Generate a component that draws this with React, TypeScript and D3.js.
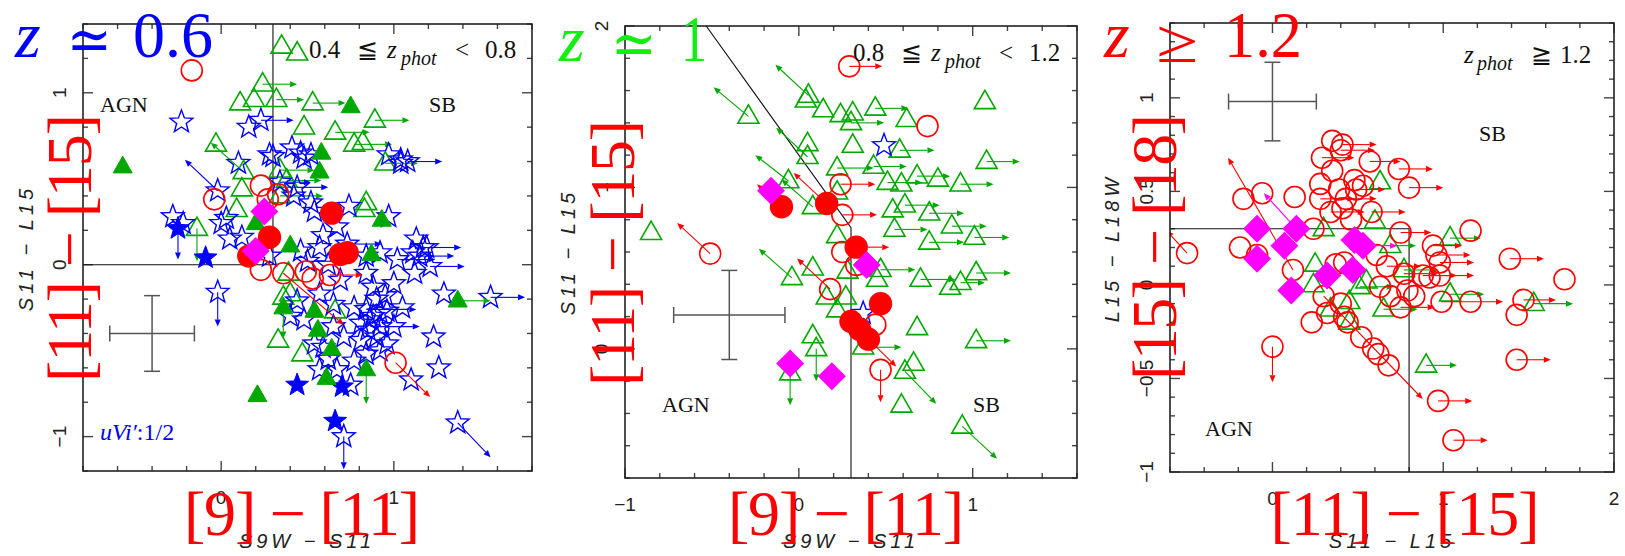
import React from 'react';
import * as d3 from 'd3';

type P = [number, number, number, number]; // x, y, arrow dx, arrow dy (data units)

// ---------------- Panel 1 : 0.4 <= z_phot < 0.8 ----------------
const p1TriOpen: P[] = [
  [0.35, 1.27, 0, 0], [0.44, 1.23, 0, 0], [0.24, 1.05, 0.2, 0], [0.11, 0.94, 0, 0], [0.19, 0.96, 0, 0],
  [0.32, 0.96, 0.16, 0], [0.53, 0.94, 0.19, 0], [0.48, 0.8, 0, 0], [0.66, 0.77, 0.2, 0], [0.89, 0.84, 0.2, 0],
  [0.77, 0.7, 0.22, 0], [0.82, 0.71, 0, 0], [-0.03, 0.7, 0, 0], [0.95, 0.59, 0.19, 0], [0.84, 0.36, 0, 0],
  [0.83, 0.32, 0, 0], [-0.14, 0.21, 0, -0.19], [0.13, 0.54, -0.19, 0.17], [0.12, 0.44, 0, 0], [0.09, 0.32, 0, 0],
  [0.34, 0.55, 0.2, 0], [0.38, 0.49, 0.2, 0], [0.34, 0.4, 0.25, 0], [0.36, -0.19, 0, 0], [0.4, -0.17, 0, 0],
  [0.66, -0.27, 0, 0], [0.33, -0.44, 0, 0], [0.47, -0.52, 0, 0], [0.39, -0.05, 0, 0],
];
const p1TriFilled: P[] = [
  [0.75, 0.92, 0, 0], [0.58, 0.65, 0, 0], [0.57, 0.54, 0, 0], [-0.57, 0.57, 0, 0], [0.93, 0.26, 0, 0],
  [0.87, 0.06, 0, 0], [0.4, 0.11, 0, 0], [0.2, 0.24, 0, 0], [1.37, -0.21, 0.19, 0], [0.36, -0.25, 0, -0.18],
  [0.54, -0.27, 0, 0], [0.56, -0.38, 0, 0], [0.64, -0.49, 0, 0], [0.61, -0.66, 0, 0], [0.84, -0.61, 0, -0.2],
  [0.21, -0.76, 0, 0],
];
const p1StarOpen: P[] = [
  [-0.23, 0.83, 0, 0], [0.16, 0.8, 0, 0], [0.23, 0.84, 0.19, 0], [0.1, 0.59, 0, 0], [0.3, 0.63, 0, 0],
  [0.41, 0.68, 0, 0], [0.48, 0.62, 0, 0], [0.52, 0.64, 0, 0], [0.28, 0.64, 0, 0], [0.46, 0.65, 0, 0],
  [0.97, 0.64, 0, 0], [1.04, 0.59, 0, 0], [1.04, 0.61, 0, 0], [1.08, 0.6, 0.2, 0], [-0.02, 0.43, -0.19, 0.18],
  [-0.28, 0.28, 0, 0], [0.03, 0.27, 0, 0], [0.42, 0.4, 0, 0], [0.52, 0.36, 0, 0], [0.54, 0.31, 0, 0],
  [0.74, 0.34, 0, 0], [0.97, 0.28, 0, 0], [1.13, 0.15, 0, 0], [1.17, 0.1, 0.22, 0], [1.11, 0.07, 0, 0],
  [1.19, 0.1, 0, 0], [1.15, 0.05, 0.2, 0], [-0.22, 0.24, 0, 0], [0.0, 0.24, 0, 0], [0.05, 0.15, 0, 0],
  [0.12, 0.16, 0, 0], [0.28, 0.05, 0, 0], [0.46, 0.08, 0, 0], [0.59, 0.17, 0, 0], [0.67, 0.22, 0, 0],
  [0.57, 0.1, 0, 0], [0.73, 0.12, 0.2, 0], [0.84, 0.05, 0, 0], [0.34, 0.48, 0.18, 0], [0.44, 0.45, 0.18, 0],
  [-0.02, -0.16, 0, -0.2], [1.29, -0.17, 0, 0], [1.56, -0.19, 0.2, 0], [1.23, -0.42, 0, 0], [1.26, -0.6, 0, 0],
  [1.1, -0.67, 0, 0], [1.37, -0.92, 0.19, -0.2], [0.71, -1.0, 0, -0.19], [0.48, -0.32, 0, 0], [0.54, -0.46, 0, 0],
  [0.71, -0.42, 0, 0], [0.67, -0.61, 0, 0], [0.77, -0.56, 0, 0], [0.84, -0.52, 0, 0], [0.92, -0.5, 0, 0],
  [0.81, -0.34, 0, 0], [0.86, -0.32, 0, 0], [0.92, -0.28, 0, 0], [0.96, -0.27, 0, 0], [1.0, -0.36, 0, 0],
  [0.88, -0.13, 0, 0], [1.0, -0.11, 0, 0], [1.12, -0.05, 0, 0], [1.21, -0.01, 0.2, 0], [0.84, -0.05, 0, 0],
  [0.69, -0.09, 0, 0], [0.57, -0.17, 0, 0], [0.44, -0.21, 0, 0], [0.65, -0.23, 0, 0], [0.77, -0.25, 0, 0],
  [0.88, -0.3, 0, 0], [0.84, -0.26, 0.29, 0], [0.92, -0.36, 0.23, 0], [0.57, -0.61, 0, 0], [0.59, -0.48, 0, 0],
  [0.81, -0.44, 0, 0], [0.96, -0.46, 0, 0], [0.65, -0.36, 0, 0], [0.4, -0.3, 0, 0], [0.5, 0.02, 0.2, 0],
  [0.62, 0.0, 0, 0], [0.92, 0.07, 0, 0], [1.02, 0.03, 0.22, 0], [0.9, -0.2, 0, 0], [0.95, -0.18, 0, 0],
  [0.85, -0.38, 0, 0], [0.9, -0.42, 0, 0], [1.05, -0.25, 0, 0], [0.75, -0.7, 0, 0], [0.62, -0.55, 0, 0],
];
const p1StarFilled: P[] = [
  [-0.25, 0.21, 0, -0.18], [-0.09, 0.04, 0, 0], [0.44, -0.7, 0, 0], [0.7, -0.71, 0, 0], [0.66, -0.91, 0, 0],
];
const p1CircOpen: P[] = [
  [-0.17, 1.13, 0, 0], [-0.04, 0.38, 0, 0], [0.23, 0.46, 0, 0], [0.27, 0.38, 0, 0], [0.33, 0.41, 0, 0],
  [0.23, -0.03, 0, 0], [0.36, -0.05, 0.35, -0.3], [0.49, -0.04, 0, 0], [0.53, -0.08, 0, 0], [0.63, -0.06, 0.19, 0],
  [1.01, -0.57, 0.2, -0.2],
];
const p1CircFilled: P[] = [
  [0.64, 0.3, 0, 0], [0.28, 0.16, 0, 0], [0.16, 0.05, 0, 0], [0.69, 0.06, 0, 0], [0.73, 0.07, 0, 0],
];
const p1Diamond: P[] = [[0.25, 0.31, 0, 0], [0.2, 0.08, 0, 0]];

// ---------------- Panel 2 : 0.8 <= z_phot < 1.2 ----------------
const p2TriOpen: P[] = [
  [-0.29, 1.44, -0.2, 0.18], [0.04, 1.54, 0, 0], [0.055, 1.57, -0.19, 0.19], [0.14, 1.48, 0, 0], [0.24, 1.45, 0, 0],
  [0.31, 1.46, 0, 0], [0.44, 1.49, 0.19, 0], [0.3, 1.4, 0.19, 0], [0.62, 1.42, 0, 0], [0.31, 1.26, 0, 0],
  [0.05, 1.27, 0, 0], [0.05, 1.19, -0.18, 0.18], [1.07, 1.53, 0, 0], [0.22, 1.12, 0.21, 0], [0.43, 1.13, 0.19, 0],
  [0.58, 1.23, 0.2, 0], [1.08, 1.16, 0.19, 0], [0.51, 1.03, 0.2, 0], [0.59, 1.02, 0, 0], [0.68, 1.07, 0.19, 0],
  [0.8, 1.05, 0, 0], [0.93, 1.02, 0.19, 0], [-0.06, 1.04, -0.19, 0.16], [0.08, 0.88, -0.18, 0.17], [0.22, 0.97, 0, 0],
  [0.54, 0.86, 0, 0], [0.61, 0.89, 0.2, 0], [0.75, 0.84, 0.2, 0], [0.88, 0.76, 0.2, 0], [0.55, 0.74, 0.19, 0],
  [0.75, 0.66, 0.2, 0], [1.01, 0.69, 0.2, 0], [0.22, 0.7, 0, 0], [0.08, 0.5, 0, 0], [-0.04, 0.44, -0.19, 0.18],
  [0.16, 0.32, 0, 0], [0.27, 0.32, 0, 0], [0.22, 0.24, 0, 0], [0.28, 0.48, 0, 0], [0.45, 0.43, 0, 0],
  [0.47, 0.49, 0.2, 0], [0.7, 0.43, 0.2, 0], [0.93, 0.41, 0.14, 0], [0.87, 0.38, 0, 0], [1.02, 0.47, 0.2, 0],
  [0.68, 0.13, 0, 0], [1.02, 0.05, 0.2, 0], [0.08, 0.08, 0, 0], [0.1, 0.0, 0, -0.2], [-0.05, -0.15, 0, -0.2],
  [0.37, 0.01, 0.22, 0], [0.66, -0.09, 0, 0], [0.61, -0.14, 0.18, -0.2], [0.59, -0.35, 0, 0], [0.94, -0.48, 0.2, -0.2],
  [-0.85, 0.72, 0, 0],
];
const p2StarOpen: P[] = [[0.49, 1.26, 0, 0], [0.37, 0.22, 0, 0]];
const p2CircOpen: P[] = [
  [0.29, 1.75, 0.19, 0], [0.74, 1.38, 0, 0], [0.24, 1.02, 0.2, 0], [0.25, 0.83, 0.2, 0], [-0.51, 0.59, -0.19, 0.19],
  [0.25, 0.6, 0, 0], [0.18, 0.37, -0.19, 0.19], [0.33, 0.52, 0, 0], [0.44, 0.15, 0, 0], [0.47, -0.13, 0, -0.2],
];
const p2CircFilled: P[] = [
  [-0.1, 0.88, -0.14, 0.14], [0.16, 0.9, -0.19, 0.19], [0.33, 0.63, 0.19, 0], [0.47, 0.28, 0, 0],
  [0.3, 0.17, 0, 0], [0.35, 0.12, 0, 0], [0.4, 0.06, 0.16, -0.17],
];
const p2Diamond: P[] = [[-0.16, 0.98, 0, 0], [0.39, 0.52, 0, 0], [-0.05, -0.09, 0, 0], [0.19, -0.17, 0, 0]];

// ---------------- Panel 3 : z_phot >= 1.2 ----------------
const p3CircOpen: P[] = [
  [0.35, 0.77, 0, 0], [0.41, 0.75, 0.2, 0], [0.4, 0.72, 0.2, 0], [0.29, 0.68, 0.19, 0], [0.35, 0.61, 0, 0],
  [0.28, 0.54, 0, 0], [0.28, 0.46, 0.2, 0], [0.39, 0.51, 0, 0], [0.48, 0.56, 0, 0], [0.49, 0.51, 0.17, 0],
  [0.43, 0.46, 0.18, 0], [0.34, 0.39, 0.2, 0], [0.41, 0.41, 0, 0], [0.46, 0.35, 0, 0], [0.58, 0.39, 0.2, 0],
  [0.57, 0.66, 0.18, 0], [0.74, 0.62, 0.2, 0], [0.8, 0.52, 0.2, 0], [1.16, 0.29, 0, 0], [0.75, 0.28, 0.18, 0],
  [0.94, 0.21, 0.17, 0], [0.96, 0.16, 0.2, 0], [0.98, 0.12, 0.2, 0], [1.39, 0.14, 0.2, 0], [1.71, 0.03, 0, 0],
  [-0.17, 0.46, 0, 0], [-0.06, 0.49, 0, 0], [0.13, 0.47, 0, 0], [-0.5, 0.17, -0.12, 0.12], [-0.19, 0.2, 0, 0],
  [-0.09, 0.16, 0, 0], [0.12, 0.08, -0.38, 0.6], [0.24, 0.3, 0, 0], [0.37, 0.11, 0, 0], [0.42, 0.12, 0, 0],
  [0.61, 0.16, 0, 0], [0.67, 0.1, 0.2, 0], [0.77, 0.06, 0.2, 0], [0.88, 0.05, 0.2, 0], [0.99, -0.09, 0.36, 0],
  [1.16, -0.09, 0, 0], [1.47, -0.08, 0.19, 0], [1.43, -0.16, 0, 0], [1.43, -0.4, 0.2, 0], [0.97, -0.62, 0.2, 0],
  [1.06, -0.83, 0.2, 0], [0.0, -0.33, 0, -0.19], [0.23, -0.2, 0, 0], [0.32, -0.15, 0, 0], [0.4, -0.1, 0, 0],
  [0.3, -0.06, 0.58, -0.55], [0.42, -0.17, 0, 0], [0.44, -0.2, 0, 0], [0.52, -0.28, 0, 0], [0.59, -0.34, 0, 0],
  [0.62, -0.37, 0, 0], [0.68, -0.43, 0, 0], [0.63, -0.01, 0, 0], [0.69, -0.06, 0, 0], [0.75, -0.12, 0.2, 0],
  [0.83, -0.06, 0, 0], [0.79, -0.03, 0, 0], [0.92, 0.04, 0, 0], [0.98, 0.05, 0.2, 0], [0.53, 0.53, 0, 0],
];
const p3TriOpen: P[] = [
  [0.63, 0.55, 0, 0], [0.6, 0.34, 0, 0], [0.3, 0.3, 0, 0], [0.69, 0.21, 0.15, 0], [1.04, 0.25, 0.18, 0],
  [0.25, 0.11, 0, 0], [0.77, 0.08, 0.2, 0], [0.24, 0.0, 0, 0], [0.51, -0.01, 0.2, 0], [0.45, -0.09, 0, 0],
  [0.65, -0.13, 0.2, 0], [1.04, -0.05, 0.2, 0], [1.53, -0.1, 0.23, 0], [0.9, -0.43, 0.18, 0], [0.34, -0.13, 0, 0],
  [0.45, -0.2, 0, 0], [0.55, 0.02, 0, 0],
];
const p3Diamond: P[] = [
  [-0.09, 0.3, 0, 0], [0.14, 0.3, -0.19, 0.19], [0.07, 0.21, 0, 0], [-0.09, 0.14, 0, 0], [0.48, 0.24, 0, 0],
  [0.53, 0.21, 0.2, 0], [0.32, 0.05, 0, 0], [0.47, 0.08, 0, 0], [0.11, -0.03, 0, 0],
];

// tick labels, reference lines, error crosses
const p1XTicks = [0, 1];
const p1YTicks = [-1, 0, 1];
const p2XTicks = [-1, 0, 1];
const p2YTicks = [0, 1, 2];
const p3XTicks = [0, 1, 2];
const p3YTicks = [-1, -0.5, 0, 0.5, 1];
const p1Lines = [[[0.3, 1.4], [0.3, 0], [-0.8, 0]]];
const p2Lines = [[[-0.533, 2], [0.3, 0.75], [0.3, -0.8]]];
const p3Lines = [[[-0.6, 0.3], [0.8, 0.3], [0.8, -1]]];
const p1Err = [-0.4, -0.4, 0.245, 0.22];
const p2Err = [-0.4, 0.21, 0.32, 0.276];
const p3Err = [0.0, 0.98, 0.257, 0.21];

const GREEN = '#00a800';
const BLUE = '#0000ff';
const RED = '#ff0000';
const MAG = '#ff00ff';
const SERIF = '"Liberation Serif", "DejaVu Serif", serif';
const SANS = '"Liberation Sans", "DejaVu Sans", sans-serif';

type Shape = 'triO' | 'triF' | 'starO' | 'starF' | 'circO' | 'circF' | 'diam';
interface Series { data: P[]; shape: Shape; color: string }

const lineGen = d3.line().curve(d3.curveLinearClosed);
function starPath(R: number) {
  const pts: [number, number][] = [];
  for (let i = 0; i < 10; i++) {
    const r = i % 2 === 0 ? R : R * 0.42;
    const a = -Math.PI / 2 + (i * Math.PI) / 5;
    pts.push([r * Math.cos(a), r * Math.sin(a)]);
  }
  return lineGen(pts) as string;
}
const STAR = starPath(12);
const TRI_O = lineGen([[0, -11.5], [10.5, 6.8], [-10.5, 6.8]]) as string;
const TRI_F = lineGen([[0, -10.5], [9.5, 6.2], [-9.5, 6.2]]) as string;
const DIAM = lineGen([[0, -14], [14, 0], [0, 14], [-14, 0]]) as string;

function Marker({ shape, color, cx, cy }: { shape: Shape; color: string; cx: number; cy: number }) {
  const t = `translate(${cx},${cy})`;
  switch (shape) {
    case 'triO': return <path d={TRI_O} transform={t} fill="none" stroke={color} strokeWidth={1.6} />;
    case 'triF': return <path d={TRI_F} transform={t} fill={color} stroke={color} strokeWidth={1} />;
    case 'starO': return <path d={STAR} transform={t} fill="none" stroke={color} strokeWidth={1.4} />;
    case 'starF': return <path d={STAR} transform={t} fill={color} stroke={color} strokeWidth={1} />;
    case 'circO': return <circle cx={cx} cy={cy} r={10.5} fill="none" stroke={color} strokeWidth={1.6} />;
    case 'circF': return <circle cx={cx} cy={cy} r={11.7} fill={color} />;
    case 'diam': return <path d={DIAM} transform={t} fill={color} />;
  }
  return null;
}

function Arrow({ x1, y1, x2, y2, color }: { x1: number; y1: number; x2: number; y2: number; color: string }) {
  const ang = Math.atan2(y2 - y1, x2 - x1);
  const L = 7, w = 3;
  const bx = x2 - L * Math.cos(ang), by = y2 - L * Math.sin(ang);
  const px = -Math.sin(ang) * w, py = Math.cos(ang) * w;
  const head = `M${x2},${y2}L${bx + px},${by + py}L${bx - px},${by - py}Z`;
  return (
    <g>
      <line x1={x1} y1={y1} x2={bx} y2={by} stroke={color} strokeWidth={1.1} />
      <path d={head} fill={color} />
    </g>
  );
}

interface PanelCfg {
  id: string; l: number; r: number; t: number; b: number;
  xd: [number, number]; yd: [number, number];
  xMinor: number; xMajor: number; yMinor: number; yMajor: number;
  xTicks: number[]; yTicks: number[];
  series: Series[]; lines: number[][][]; err: number[];
}

function tickVals(d0: number, d1: number, step: number) {
  const out: number[] = [];
  const i0 = Math.ceil(d0 / step - 1e-6), i1 = Math.floor(d1 / step + 1e-6);
  for (let i = i0; i <= i1; i++) out.push(+(i * step).toFixed(6));
  return out;
}
const isMajor = (v: number, m: number) => Math.abs(v / m - Math.round(v / m)) < 1e-6;
const fmt = (v: number) => (v < 0 ? '\u2212' + Math.abs(v) : String(v));

function Panel({ cfg }: { cfg: PanelCfg }) {
  const x = d3.scaleLinear().domain(cfg.xd).range([cfg.l, cfg.r]);
  const y = d3.scaleLinear().domain(cfg.yd).range([cfg.b, cfg.t]);
  const line = d3.line<number[]>().x((d) => x(d[0])).y((d) => y(d[1]));
  const clipId = 'clip-' + cfg.id;
  const xt = tickVals(cfg.xd[0], cfg.xd[1], cfg.xMinor);
  const yt = tickVals(cfg.yd[0], cfg.yd[1], cfg.yMinor);
  const [ex, ey, ehx, ehy] = cfg.err;
  const cap = 8;
  const tc = '#444';
  return (
    <g>
      <defs>
        <clipPath id={clipId}>
          <rect x={cfg.l} y={cfg.t} width={cfg.r - cfg.l} height={cfg.b - cfg.t} />
        </clipPath>
      </defs>
      {xt.map((v) => {
        const len = isMajor(v, cfg.xMajor) ? 10 : 5;
        return (
          <g key={'xt' + v} stroke={tc} strokeWidth={1.4}>
            <line x1={x(v)} x2={x(v)} y1={cfg.b} y2={cfg.b - len} />
            <line x1={x(v)} x2={x(v)} y1={cfg.t} y2={cfg.t + len} />
          </g>
        );
      })}
      {yt.map((v) => {
        const len = isMajor(v, cfg.yMajor) ? 10 : 5;
        return (
          <g key={'yt' + v} stroke={tc} strokeWidth={1.4}>
            <line y1={y(v)} y2={y(v)} x1={cfg.l} x2={cfg.l + len} />
            <line y1={y(v)} y2={y(v)} x1={cfg.r} x2={cfg.r - len} />
          </g>
        );
      })}
      {cfg.xTicks.map((v) => (
        <text key={'xl' + v} x={x(v)} y={cfg.b + 33} textAnchor="middle" fontFamily={SANS} fontSize={19} fill="#222">
          {fmt(v)}
        </text>
      ))}
      {cfg.yTicks.map((v) => (
        <text key={'yl' + v} transform={`translate(${cfg.l - 17},${y(v)}) rotate(-90)`} textAnchor="middle"
          fontFamily={SANS} fontSize={19} fill="#222">
          {fmt(v)}
        </text>
      ))}
      <g stroke="#555" strokeWidth={1.5}>
        <line x1={x(ex - ehx)} x2={x(ex + ehx)} y1={y(ey)} y2={y(ey)} />
        <line x1={x(ex)} x2={x(ex)} y1={y(ey - ehy)} y2={y(ey + ehy)} />
        <line x1={x(ex - ehx)} x2={x(ex - ehx)} y1={y(ey) - cap} y2={y(ey) + cap} />
        <line x1={x(ex + ehx)} x2={x(ex + ehx)} y1={y(ey) - cap} y2={y(ey) + cap} />
        <line x1={x(ex) - cap} x2={x(ex) + cap} y1={y(ey - ehy)} y2={y(ey - ehy)} />
        <line x1={x(ex) - cap} x2={x(ex) + cap} y1={y(ey + ehy)} y2={y(ey + ehy)} />
      </g>
      <g clipPath={`url(#${clipId})`}>
        {cfg.lines.map((ln, i) => (
          <path key={'ln' + i} d={line(ln) as string} fill="none" stroke="#111" strokeWidth={1.1} />
        ))}
        {cfg.series.map((s, si) => (
          <g key={'s' + si}>
            {s.data.map((d, i) => (
              <g key={i}>
                {(d[2] !== 0 || d[3] !== 0) && (
                  <Arrow x1={x(d[0])} y1={y(d[1])} x2={x(d[0] + d[2])} y2={y(d[1] + d[3])} color={s.color} />
                )}
                <Marker shape={s.shape} color={s.color} cx={x(d[0])} cy={y(d[1])} />
              </g>
            ))}
          </g>
        ))}
      </g>
      <rect x={cfg.l} y={cfg.t} width={cfg.r - cfg.l} height={cfg.b - cfg.t} fill="none" stroke="#222" strokeWidth={1.6} />
    </g>
  );
}

const panels: PanelCfg[] = [
  {
    id: 'p1', l: 83, r: 532, t: 24, b: 471, xd: [-0.8, 1.8], yd: [-1.2, 1.4],
    xMinor: 0.2, xMajor: 1, yMinor: 0.2, yMajor: 1, xTicks: p1XTicks, yTicks: p1YTicks,
    lines: p1Lines, err: p1Err,
    series: [
      { data: p1TriOpen, shape: 'triO', color: GREEN },
      { data: p1StarOpen, shape: 'starO', color: BLUE },
      { data: p1StarFilled, shape: 'starF', color: BLUE },
      { data: p1TriFilled, shape: 'triF', color: GREEN },
      { data: p1CircOpen, shape: 'circO', color: RED },
      { data: p1CircFilled, shape: 'circF', color: RED },
      { data: p1Diamond, shape: 'diam', color: MAG },
    ],
  },
  {
    id: 'p2', l: 625, r: 1077, t: 26, b: 478, xd: [-1, 1.6], yd: [-0.8, 2],
    xMinor: 0.2, xMajor: 1, yMinor: 0.2, yMajor: 1, xTicks: p2XTicks, yTicks: p2YTicks,
    lines: p2Lines, err: p2Err,
    series: [
      { data: p2TriOpen, shape: 'triO', color: GREEN },
      { data: p2StarOpen, shape: 'starO', color: BLUE },
      { data: p2CircOpen, shape: 'circO', color: RED },
      { data: p2CircFilled, shape: 'circF', color: RED },
      { data: p2Diamond, shape: 'diam', color: MAG },
    ],
  },
  {
    id: 'p3', l: 1170, r: 1614, t: 23, b: 472, xd: [-0.6, 2], yd: [-1, 1.4],
    xMinor: 0.2, xMajor: 1, yMinor: 0.1, yMajor: 0.5, xTicks: p3XTicks, yTicks: p3YTicks,
    lines: p3Lines, err: p3Err,
    series: [
      { data: p3TriOpen, shape: 'triO', color: GREEN },
      { data: p3CircOpen, shape: 'circO', color: RED },
      { data: p3Diamond, shape: 'diam', color: MAG },
    ],
  },
];

function ZPhot({ x0, y0, parts }: { x0: number; y0: number; parts: [string, number, number][] }) {
  return (
    <g fill="#111">
      {parts.map(([t, dx, k], i) => (
        <text key={i} x={x0 + dx} y={k === 2 ? y0 + 7 : y0} fontFamily={SERIF}
          fontSize={k === 2 ? 20 : 25} fontStyle={k === 0 ? 'normal' : 'italic'}>
          {t}
        </text>
      ))}
    </g>
  );
}

function BigZ({ x0, y0, color, rel, relW, relDy, num, numX, numW }: any) {
  return (
    <g fill={color} fontFamily={SERIF}>
      <text x={x0} y={y0} fontSize={66} fontStyle="italic">z</text>
      <text x={x0 + 52} y={y0 + relDy} fontSize={62} textLength={relW} lengthAdjust="spacingAndGlyphs">{rel}</text>
      <text x={numX} y={y0} fontSize={66} textLength={numW} lengthAdjust="spacingAndGlyphs">{num}</text>
    </g>
  );
}

export default function App() {
  return (
    <svg width={1625} height={556} style={{ position: 'absolute', left: 0, top: 0, background: '#fff' }}>
      <rect x={0} y={0} width={1625} height={556} fill="#fff" />
      {panels.map((p) => <Panel key={p.id} cfg={p} />)}

      <g fontFamily={SANS} fontStyle="italic" fontSize={20} fill="#222" letterSpacing={4}>
        <text x={307} y={548} textAnchor="middle">S9W − S11</text>
        <text x={851} y={548} textAnchor="middle">S9W − S11</text>
        <text x={1392} y={548} textAnchor="middle">S11 − L15</text>
        <text transform="translate(33,248) rotate(-90)" textAnchor="middle">S11 − L15</text>
        <text transform="translate(575,252) rotate(-90)" textAnchor="middle">S11 − L15</text>
        <text transform="translate(1119,248) rotate(-90)" textAnchor="middle">L15 − L18W</text>
      </g>

      <g fontFamily={SERIF} fontSize={22} fill="#111">
        <text x={100} y={112}>AGN</text>
        <text x={429} y={112}>SB</text>
        <text x={662} y={412}>AGN</text>
        <text x={973} y={412}>SB</text>
        <text x={1479} y={141}>SB</text>
        <text x={1205} y={436}>AGN</text>
      </g>

      <ZPhot x0={309} y0={58} parts={[['0.4', 0, 0], ['≦', 48, 0], ['z', 78, 1], ['phot', 92, 2], ['<', 146, 0], ['0.8', 176, 0]]} />
      <ZPhot x0={853} y0={61} parts={[['0.8', 0, 0], ['≦', 48, 0], ['z', 78, 1], ['phot', 92, 2], ['<', 146, 0], ['1.2', 176, 0]]} />
      <ZPhot x0={1464} y0={63} parts={[['z', 0, 1], ['phot', 13, 2], ['≧', 67, 0], ['1.2', 96, 0]]} />

      <text x={100} y={440} fontFamily={SERIF} fontSize={24} fill={BLUE}>
        <tspan fontStyle="italic">uVi′</tspan>
        <tspan>:1/2</tspan>
      </text>

      <BigZ x0={15} y0={57} relDy={4} color={BLUE} rel="≃" relW={45} num="0.6" numX={133} numW={80} />
      <BigZ x0={559} y0={61} relDy={4} color="#11ee11" rel="≃" relW={46} num="1" numX={681} numW={26} />
      <BigZ x0={1104} y0={57} relDy={5} color={RED} rel="≥" relW={42} num="1.2" numX={1224} numW={78} />

      <g fill={RED} fontFamily={SERIF} fontSize={64}>
        <text transform="translate(91,248) rotate(-90)" textAnchor="middle" textLength={268} lengthAdjust="spacing">[11] − [15]</text>
        <text transform="translate(634,253) rotate(-90)" textAnchor="middle" textLength={266} lengthAdjust="spacing">[11] − [15]</text>
        <text transform="translate(1176,247) rotate(-90)" textAnchor="middle" textLength={266} lengthAdjust="spacing">[15] − [18]</text>
        <text x={302} y={535} textAnchor="middle" textLength={236} lengthAdjust="spacing">[9] − [11]</text>
        <text x={846} y={535} textAnchor="middle" textLength={236} lengthAdjust="spacing">[9] − [11]</text>
        <text x={1405} y={535} textAnchor="middle" textLength={269} lengthAdjust="spacing">[11] − [15]</text>
      </g>
    </svg>
  );
}
